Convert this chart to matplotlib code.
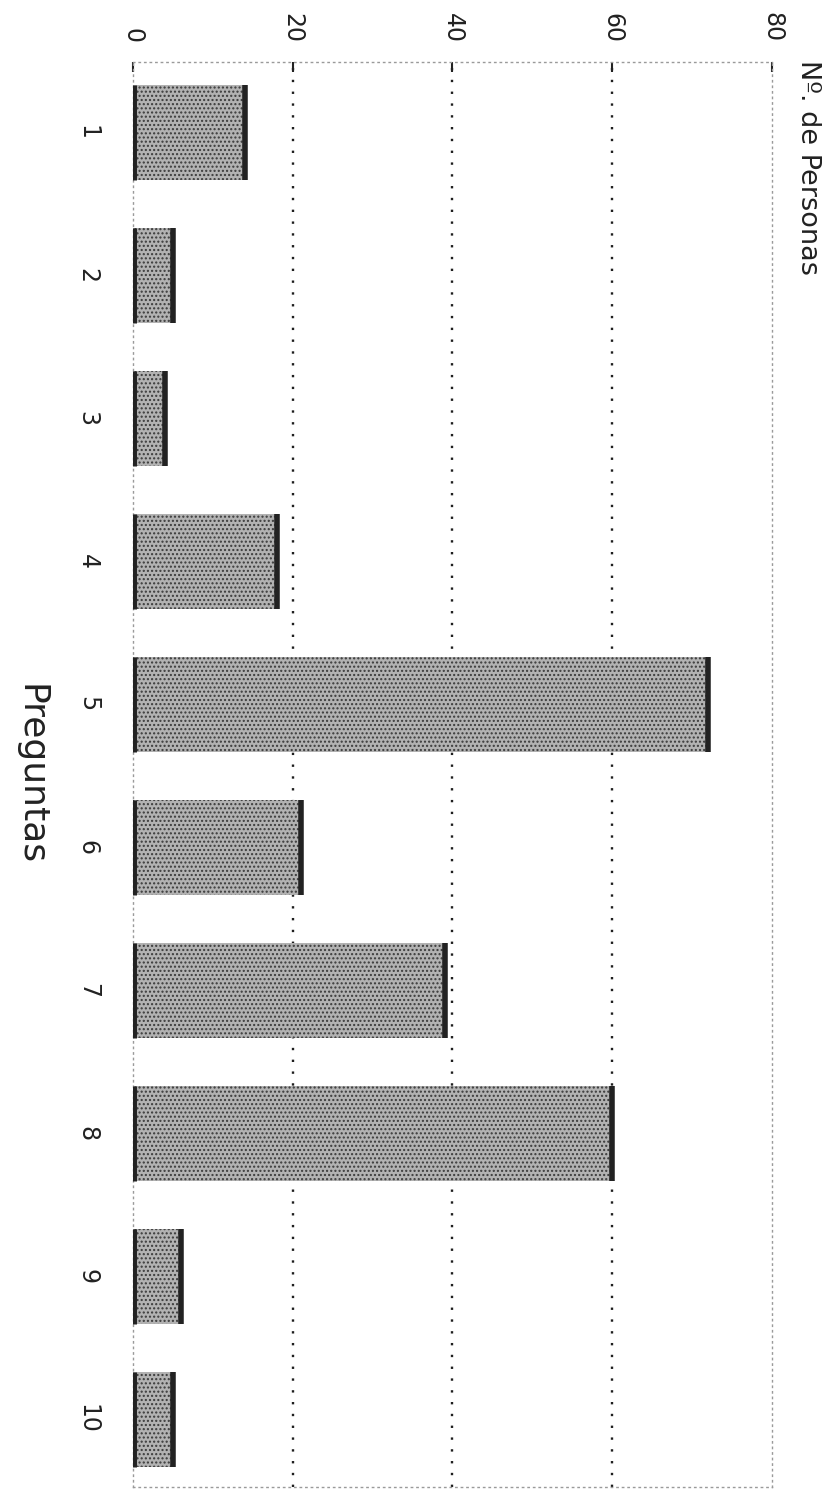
import matplotlib
matplotlib.use('Agg')
import matplotlib.pyplot as plt
from matplotlib import font_manager as fm
import numpy as np

# ---- data ----
preguntas = ['1', '2', '3', '4', '5', '6', '7', '8', '9', '10']
personas = [14, 5, 4, 18, 72, 21, 39, 60, 6, 5]
value_ticks = [0, 20, 40, 60, 80]
value_tick_labels = ['0', '20', '40', '60', '80']
value_label = 'Nº. de Personas'
category_label = 'Preguntas'

# ---- fonts ----
names = {f.name for f in fm.fontManager.ttflist}
if 'Liberation Sans Narrow' in names:
    fam = 'Liberation Sans Narrow'
    tick_fs, lab_fs, vl_fs = 22, 31, 23
else:
    fam = 'DejaVu Sans'
    tick_fs, lab_fs, vl_fs = 17, 26, 19.5

plt.rcParams['hatch.linewidth'] = 1.0

W, H = 828, 1492
fig = plt.figure(figsize=(W / 100, H / 100), dpi=100)
ax = fig.add_axes([133 / W, 5 / H, 639 / W, 1425 / H])

pos = np.arange(1, len(preguntas) + 1)
bh = 0.664
ax.barh(pos, personas, height=bh, color='#b2b2b2', edgecolor='#3a3a3a',
        linewidth=0, hatch='....', zorder=2)
ax.vlines(personas, pos - bh / 2, pos + bh / 2, colors='#222222',
          linewidth=4, zorder=3)
ax.vlines(np.zeros(len(pos)), pos - bh / 2, pos + bh / 2, colors='#222222',
          linewidth=5, zorder=3)

ax.set_xlim(value_ticks[0], value_ticks[-1])
ax.set_ylim(10.475, 0.51)

ax.xaxis.tick_top()
ax.set_xticks(value_ticks, value_tick_labels)
ax.set_yticks(pos, preguntas)
ax.tick_params(axis='x', direction='in', length=7, width=1.5, color='#222222',
               pad=14, labelrotation=-90, labelsize=tick_fs, labelcolor='#222222')
ax.tick_params(axis='y', length=0, pad=24, labelrotation=-90,
               labelsize=tick_fs, labelcolor='#222222')
for lbl in ax.get_xticklabels():
    lbl.set_family(fam)
for lbl in ax.get_yticklabels():
    lbl.set_family(fam)
    lbl.set_va('center')

ax.set_axisbelow(True)
ax.grid(axis='x', color='#1e1e1e', linestyle=(0, (1, 4)), linewidth=1.7)
ax.grid(axis='y', visible=False)
gl = ax.get_xgridlines()
gl[0].set_visible(False)
gl[-1].set_visible(False)

for s in ax.spines.values():
    s.set_linestyle((0, (1, 3)))
    s.set_color('#9a9a9a')
    s.set_linewidth(1.0)

fig.text(30 / W, 1 - 775 / H, category_label, rotation=-90, ha='center',
         va='center', fontsize=lab_fs, family=fam, color='#222222')
fig.text(808 / W, 1 - 60 / H, value_label, rotation=-90, ha='center',
         va='top', fontsize=vl_fs, family=fam, color='#222222')

fig.savefig('out.png', dpi=100)
